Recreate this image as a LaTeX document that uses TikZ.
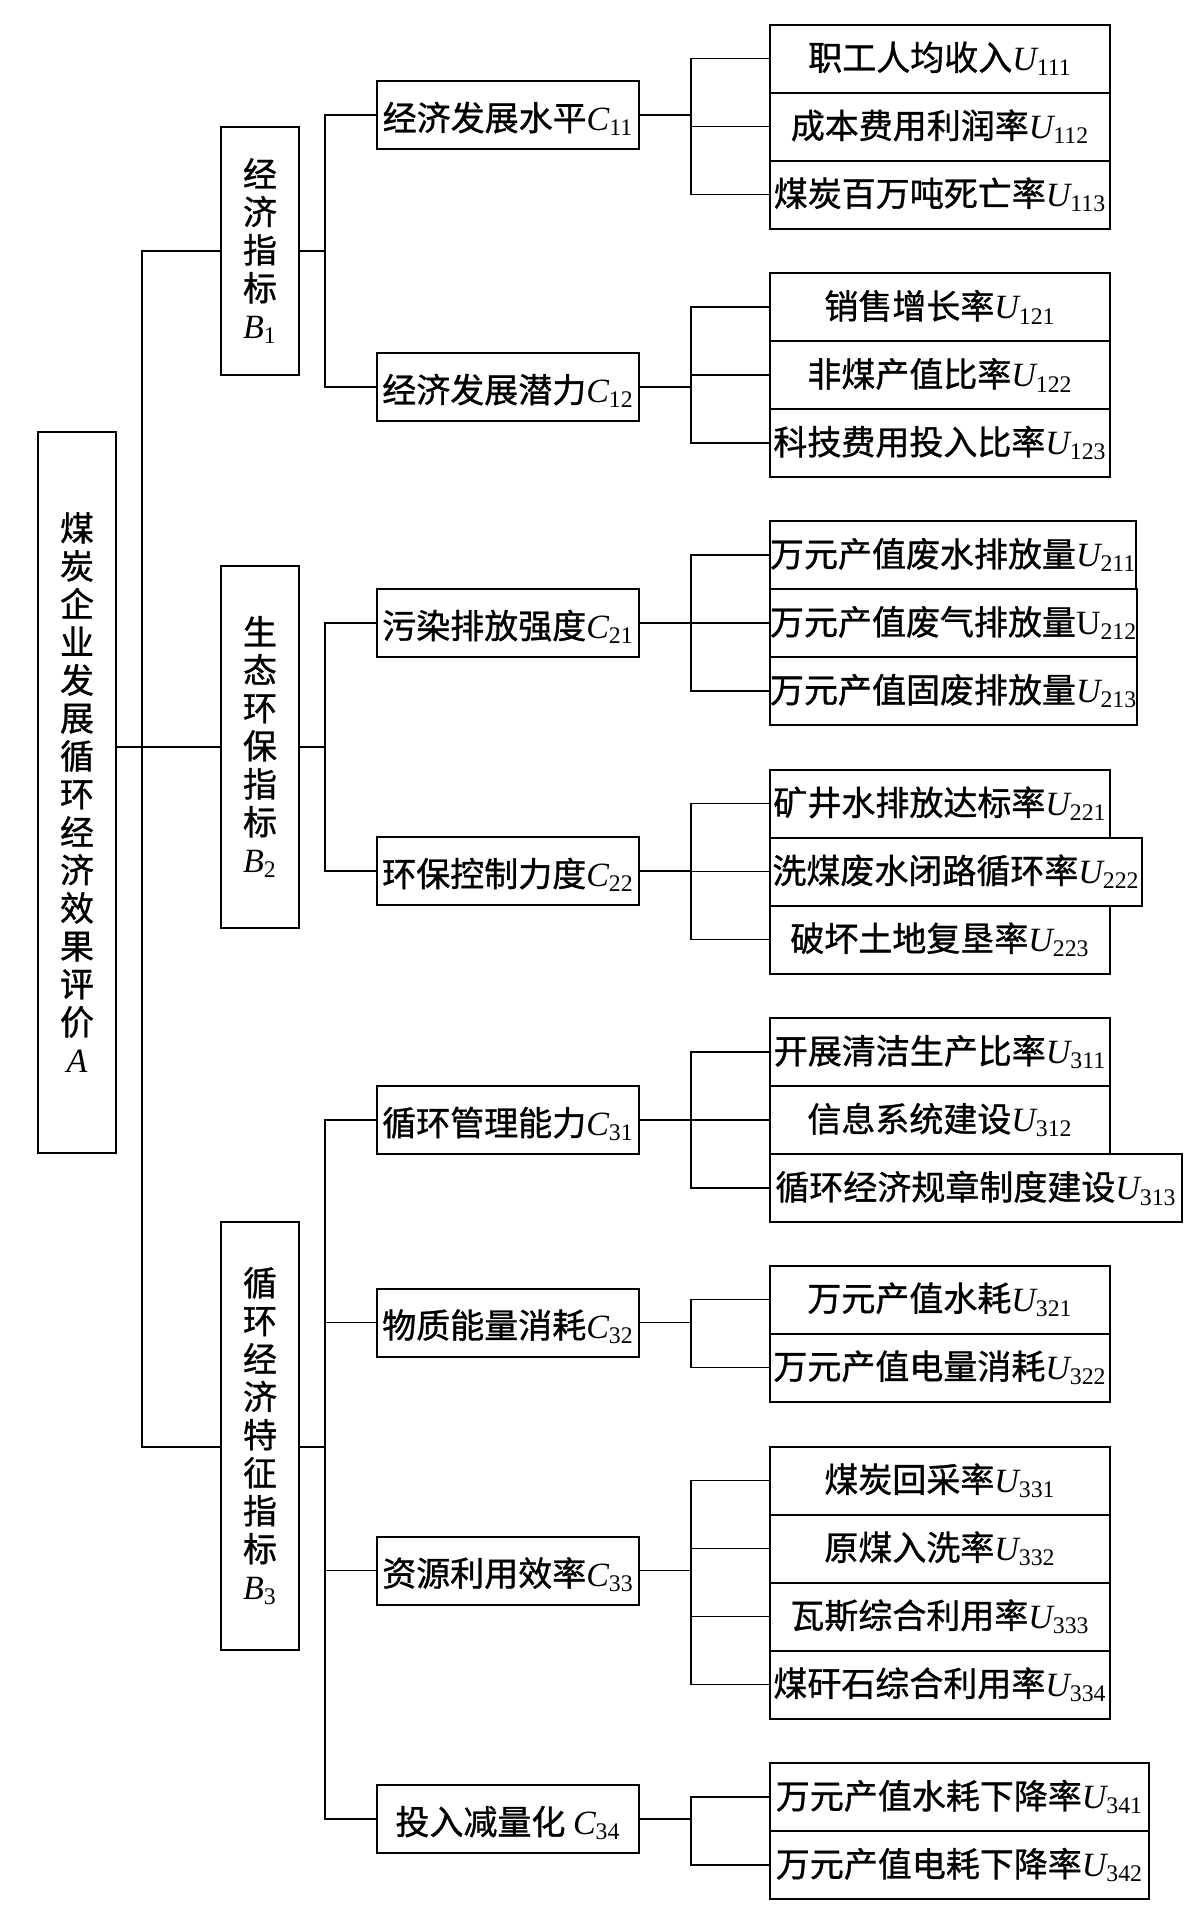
\documentclass[tikz,border=0pt]{standalone}
\usepackage{fontspec}
\setmainfont{Liberation Serif}
\newfontface\cjk{Noto Sans CJK SC}[FakeBold=1]
\newfontfamily\lat{Liberation Serif}
\usetikzlibrary{positioning}

\newcommand{\ix}[2]{{\lat\itshape #1}\textsubscript{\lat #2}}
\newcommand{\ux}[2]{{\lat #1}\textsubscript{\lat #2}}

\begin{document}
\begin{tikzpicture}[
  x=0.5pt, y=-0.5pt,
  blk/.style={draw, line width=1pt, inner sep=0pt, outer sep=0pt,
              font=\cjk\fontsize{17}{19}\selectfont},
  vbox/.style={blk, minimum width=39pt, align=center},
  cbox/.style={blk, minimum width=131pt, minimum height=34pt,
               text height=19pt, text depth=3.5pt},
  ubox/.style={blk, minimum width=170pt, minimum height=34pt, anchor=north west},
  ln/.style={line width=0.9pt},
]
  \useasboundingbox (0,0) rectangle (1197,1924);

  % top level and first level
  \node[vbox, minimum height=360.5pt] (a) at (77,792.5)
    {煤\\炭\\企\\业\\发\\展\\循\\环\\经\\济\\效\\果\\评\\价\\{\lat\itshape A}};
  \node[vbox, minimum height=124pt] (b1) at (260,251) {经\\济\\指\\标\\\ix{B}{1}};
  \node[vbox, minimum height=181pt] (b2) at (260,747) {生\\态\\环\\保\\指\\标\\\ix{B}{2}};
  \node[vbox, minimum height=214pt] (b3) at (260,1436) {循\\环\\经\\济\\特\\征\\指\\标\\\ix{B}{3}};

  % second level
  \node[cbox] (c11) at (508,115) {经济发展水平\ix{C}{11}};
  \node[cbox] (c12) at (508,387) {经济发展潜力\ix{C}{12}};
  \node[cbox] (c21) at (508,623) {污染排放强度\ix{C}{21}};
  \node[cbox] (c22) at (508,871) {环保控制力度\ix{C}{22}};
  \node[cbox] (c31) at (508,1120) {循环管理能力\ix{C}{31}};
  \node[cbox] (c32) at (508,1322.5) {物质能量消耗\ix{C}{32}};
  \node[cbox] (c33) at (508,1570.5) {资源利用效率\ix{C}{33}};
  \node[cbox] (c34) at (508,1819) {投入减量化\ \ix{C}{34}};

  % third level
  \node[ubox] (u111) at (770,24.5) {职工人均收入\ix{U}{111}};
  \node[ubox] (u112) at (u111.south west) {成本费用利润率\ix{U}{112}};
  \node[ubox] (u113) at (u112.south west) {煤炭百万吨死亡率\ix{U}{113}};

  \node[ubox] (u121) at (770,273) {销售增长率\ix{U}{121}};
  \node[ubox] (u122) at (u121.south west) {非煤产值比率\ix{U}{122}};
  \node[ubox] (u123) at (u122.south west) {科技费用投入比率\ix{U}{123}};

  \node[ubox, minimum width=182.5pt] (u211) at (770,521) {万元产值废水排放量\ix{U}{211}};
  \node[ubox, minimum width=182.5pt] (u212) at (u211.south west) {万元产值废气排放量\ux{U}{212}};
  \node[ubox, minimum width=182.5pt] (u213) at (u212.south west) {万元产值固废排放量\ix{U}{213}};

  \node[ubox] (u221) at (770,769.5) {矿井水排放达标率\ix{U}{221}};
  \node[ubox, minimum width=186pt] (u222) at (u221.south west) {洗煤废水闭路循环率\ix{U}{222}};
  \node[ubox] (u223) at (u222.south west) {破坏土地复垦率\ix{U}{223}};

  \node[ubox] (u311) at (770,1018) {开展清洁生产比率\ix{U}{311}};
  \node[ubox] (u312) at (u311.south west) {信息系统建设\ix{U}{312}};
  \node[ubox, minimum width=206pt] (u313) at (u312.south west) {循环经济规章制度建设\ix{U}{313}};

  \node[ubox] (u321) at (770,1265.5) {万元产值水耗\ix{U}{321}};
  \node[ubox] (u322) at (u321.south west) {万元产值电量消耗\ix{U}{322}};

  \node[ubox] (u331) at (770,1446.5) {煤炭回采率\ix{U}{331}};
  \node[ubox] (u332) at (u331.south west) {原煤入洗率\ix{U}{332}};
  \node[ubox] (u333) at (u332.south west) {瓦斯综合利用率\ix{U}{333}};
  \node[ubox] (u334) at (u333.south west) {煤矸石综合利用率\ix{U}{334}};

  \node[ubox, minimum width=189.5pt] (u341) at (770,1763) {万元产值水耗下降率\ix{U}{341}};
  \node[ubox, minimum width=189.5pt] (u342) at (u341.south west) {万元产值电耗下降率\ix{U}{342}};

  % trunks
  \coordinate (tk) at (142,0);
  \coordinate (bc) at (325,0);
  \coordinate (cu) at (691,0);

  % A -> B
  \draw[ln] (a.east |- b2.west) -- (b2.west);
  \draw[ln] (b1.west) -- (b1.west -| tk) -- ([yshift=-5.5pt]b3.west -| tk) -- ([yshift=-5.5pt]b3.west);

  % B -> C
  \draw[ln] (b1.east) -- (b1.east -| bc);
  \draw[ln] (c11.west) -- (c11.west -| bc) -- (c12.west -| bc) -- (c12.west);
  \draw[ln] (b2.east) -- (b2.east -| bc);
  \draw[ln] (c21.west) -- (c21.west -| bc) -- (c22.west -| bc) -- (c22.west);
  \draw[ln] ([yshift=-5.5pt]b3.east) -- ([yshift=-5.5pt]b3.east -| bc);
  \draw[ln] (c31.west) -- (c31.west -| bc) -- (c34.west -| bc) -- (c34.west);
  \draw[ln] (c32.west) -- (c32.west -| bc);
  \draw[ln] (c33.west) -- (c33.west -| bc);

  % C -> U
  \draw[ln] (c11.east) -- (c11.east -| cu);
  \draw[ln] (u111.west) -- (u111.west -| cu) -- (u113.west -| cu) -- (u113.west);
  \draw[ln] (u112.west) -- (u112.west -| cu);

  \draw[ln] (c12.east) -- (c12.east -| cu);
  \draw[ln] (u121.west) -- (u121.west -| cu) -- (u123.west -| cu) -- (u123.west);
  \draw[ln] (u122.west) -- (u122.west -| cu);

  \draw[ln] (c21.east) -- (c21.east -| cu);
  \draw[ln] (u211.west) -- (u211.west -| cu) -- (u213.west -| cu) -- (u213.west);
  \draw[ln] (u212.west) -- (u212.west -| cu);

  \draw[ln] (c22.east) -- (c22.east -| cu);
  \draw[ln] (u221.west) -- (u221.west -| cu) -- (u223.west -| cu) -- (u223.west);
  \draw[ln] (u222.west) -- (u222.west -| cu);

  \draw[ln] (c31.east) -- (c31.east -| cu);
  \draw[ln] (u311.west) -- (u311.west -| cu) -- (u313.west -| cu) -- (u313.west);
  \draw[ln] (u312.west) -- (u312.west -| cu);

  \draw[ln] (c32.east) -- (c32.east -| cu);
  \draw[ln] (u321.west) -- (u321.west -| cu) -- (u322.west -| cu) -- (u322.west);

  \draw[ln] (c33.east) -- (c33.east -| cu);
  \draw[ln] (u331.west) -- (u331.west -| cu) -- (u334.west -| cu) -- (u334.west);
  \draw[ln] (u332.west) -- (u332.west -| cu);
  \draw[ln] (u333.west) -- (u333.west -| cu);

  \draw[ln] (c34.east) -- (c34.east -| cu);
  \draw[ln] (u341.west) -- (u341.west -| cu) -- (u342.west -| cu) -- (u342.west);
\end{tikzpicture}
\end{document}
